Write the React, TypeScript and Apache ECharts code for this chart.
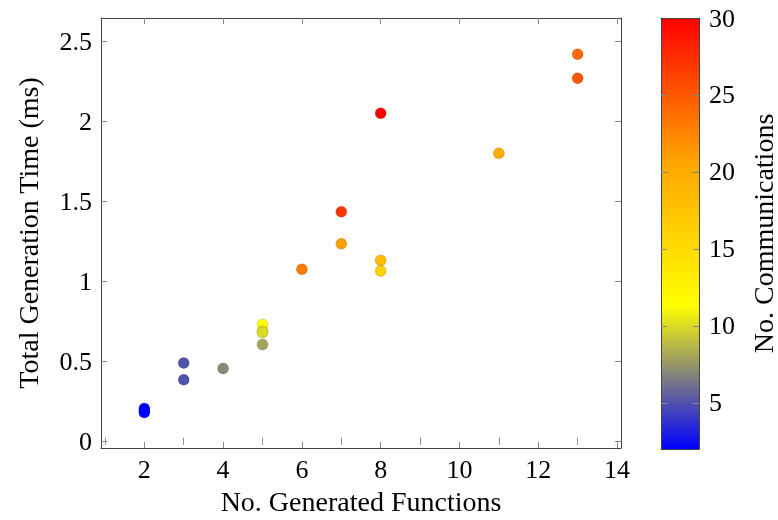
import React, { useEffect, useRef } from "react";
import * as echarts from "echarts";

const FUNCS = [2, 2, 2, 3, 3, 4, 5, 5, 5, 5, 6, 7, 7, 8, 8, 8, 11, 13, 13];
const TIMES = [0.205, 0.19, 0.18, 0.49, 0.385, 0.455, 0.73, 0.69, 0.68, 0.605, 1.075, 1.435, 1.235, 2.05, 1.13, 1.065, 1.8, 2.42, 2.27];
const COMMS = [2, 2, 2, 5, 5, 7, 11.5, 10.5, 10, 8, 23, 27, 21, 30, 18, 16, 20, 24, 25];

const COLORMAP = ["#0000ff", "#ffff00", "#ffa500", "#ff0000"];
const COLOR_MIN = 2;
const COLOR_MAX = 30;

const X_MAJOR = [2, 4, 6, 8, 10, 12, 14];
const X_MINOR = [1, 3, 5, 7, 9, 11, 13];
const Y_MAJOR = [0, 0.5, 1, 1.5, 2, 2.5];
const C_LABELS = [5, 10, 15, 20, 25, 30];
const C_TICKS = [5, 10, 15, 20, 25];

const FONT = "Liberation Serif";
const FS = 26;
const NAME_FS = 28;
const LINE = "#444";
const TICK = "#888";

export default function App() {
  const ref = useRef<HTMLDivElement>(null);
  useEffect(() => {
    document.body.style.margin = "0";
    const chart = echarts.init(ref.current!, null, { renderer: "svg" });
    const data = FUNCS.map((x, i) => [x, TIMES[i], COMMS[i]]);
    const stops = COLORMAP.map((c, i) => ({ offset: i / (COLORMAP.length - 1), color: c }));
    const textStyle = { fontFamily: FONT, fontSize: FS, color: "#000" };
    const nameStyle = { fontFamily: FONT, fontSize: NAME_FS, color: "#000" };
    const baseX = (extra: any) => ({
      type: "value",
      min: 0.9,
      max: 14.1,
      gridIndex: 0,
      splitLine: { show: false },
      axisLine: { show: true, onZero: false, lineStyle: { color: LINE } },
      ...extra,
    });
    const baseY = (extra: any) => ({
      type: "value",
      min: -0.042,
      max: 2.646,
      gridIndex: 0,
      splitLine: { show: false },
      axisLine: { show: true, onZero: false, lineStyle: { color: LINE } },
      ...extra,
    });
    chart.setOption({
      animation: false,
      textStyle: { fontFamily: FONT },
      grid: [
        { left: 101, top: 18, width: 520, height: 431 },
        { left: 661, top: 18, width: 38, height: 431 },
      ],
      visualMap: {
        type: "continuous",
        show: false,
        min: COLOR_MIN,
        max: COLOR_MAX,
        dimension: 2,
        seriesIndex: 0,
        inRange: { color: COLORMAP },
      },
      xAxis: [
        baseX({
          position: "bottom",
          name: "No. Generated Functions",
          nameLocation: "middle",
          nameGap: 39,
          nameTextStyle: nameStyle,
          axisTick: { show: true, inside: true, length: 6, customValues: X_MAJOR, lineStyle: { color: TICK } },
          axisLabel: { show: true, customValues: X_MAJOR, margin: 8, ...textStyle },
        }),
        baseX({
          position: "bottom",
          axisLine: { show: false },
          axisTick: { show: true, inside: true, length: 3.5, customValues: X_MINOR, lineStyle: { color: TICK } },
          axisLabel: { show: false },
        }),
        baseX({
          position: "top",
          axisTick: { show: true, inside: true, length: 6, customValues: X_MAJOR, lineStyle: { color: TICK } },
          axisLabel: { show: false },
        }),
        baseX({
          position: "top",
          axisLine: { show: false },
          axisTick: { show: true, inside: true, length: 3.5, customValues: X_MINOR, lineStyle: { color: TICK } },
          axisLabel: { show: false },
        }),
        {
          type: "value",
          gridIndex: 1,
          min: 0,
          max: 1,
          position: "bottom",
          z: 10,
          splitLine: { show: false },
          axisLine: { show: true, onZero: false, lineStyle: { color: LINE } },
          axisTick: { show: false },
          axisLabel: { show: false },
        },
        {
          type: "value",
          gridIndex: 1,
          min: 0,
          max: 1,
          position: "top",
          z: 10,
          splitLine: { show: false },
          axisLine: { show: true, onZero: false, lineStyle: { color: LINE } },
          axisTick: { show: false },
          axisLabel: { show: false },
        },
      ],
      yAxis: [
        baseY({
          position: "left",
          name: "Total Generation Time (ms)",
          nameLocation: "middle",
          nameGap: 59,
          nameTextStyle: nameStyle,
          axisTick: { show: true, inside: true, length: 6, customValues: Y_MAJOR, lineStyle: { color: TICK } },
          axisLabel: { show: true, customValues: Y_MAJOR, margin: 9, ...textStyle },
        }),
        baseY({
          position: "right",
          axisTick: { show: true, inside: true, length: 6, customValues: Y_MAJOR, lineStyle: { color: TICK } },
          axisLabel: { show: false },
        }),
        {
          type: "value",
          gridIndex: 1,
          min: COLOR_MIN,
          max: COLOR_MAX,
          position: "right",
          z: 10,
          name: "No. Communications",
          nameLocation: "middle",
          nameGap: 50,
          nameTextStyle: nameStyle,
          splitLine: { show: false },
          axisLine: { show: true, onZero: false, lineStyle: { color: LINE } },
          axisTick: { show: true, inside: true, length: 6, customValues: C_TICKS, lineStyle: { color: TICK } },
          axisLabel: { show: true, customValues: C_LABELS, margin: 10, ...textStyle },
        },
        {
          type: "value",
          gridIndex: 1,
          min: COLOR_MIN,
          max: COLOR_MAX,
          position: "left",
          z: 10,
          splitLine: { show: false },
          axisLine: { show: true, onZero: false, lineStyle: { color: LINE } },
          axisTick: { show: true, inside: true, length: 6, customValues: C_TICKS, lineStyle: { color: TICK } },
          axisLabel: { show: false },
        },
      ],
      series: [
        {
          type: "scatter",
          xAxisIndex: 0,
          yAxisIndex: 0,
          symbol: "circle",
          symbolSize: 11,
          itemStyle: { opacity: 1, borderColor: "rgba(0,0,0,0.18)", borderWidth: 0.8 },
          data,
        },
        {
          type: "custom",
          xAxisIndex: 4,
          yAxisIndex: 2,
          silent: true,
          data: [[0, COLOR_MIN, 1, COLOR_MAX]],
          encode: { x: [0, 2], y: [1, 3] },
          renderItem: (params: any, api: any) => {
            const p0 = api.coord([api.value(0), api.value(3)]);
            const p1 = api.coord([api.value(2), api.value(1)]);
            return {
              type: "rect",
              shape: { x: p0[0], y: p0[1], width: p1[0] - p0[0], height: p1[1] - p0[1] },
              style: { fill: new echarts.graphic.LinearGradient(0, 1, 0, 0, stops) },
            };
          },
        },
      ],
    });
    return () => chart.dispose();
  }, []);
  return <div ref={ref} style={{ position: "fixed", left: 0, top: 0, width: 778, height: 520 }} />;
}
